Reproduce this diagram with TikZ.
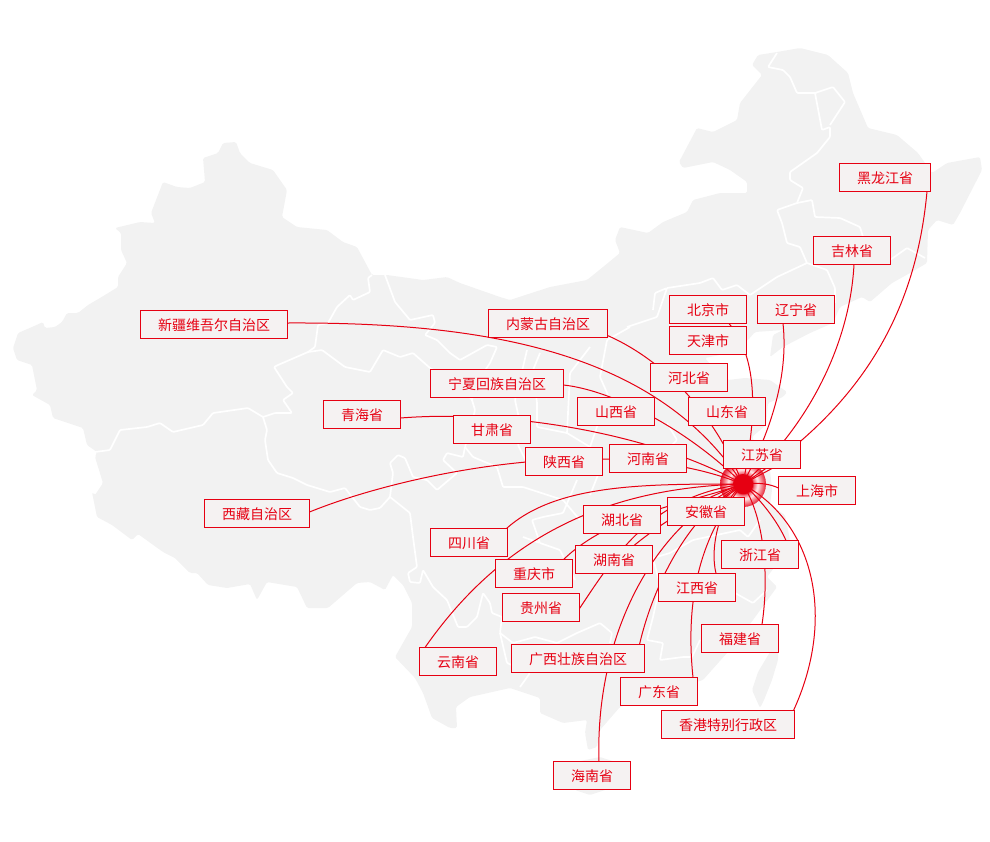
\documentclass[tikz,border=0pt]{standalone}
\usepackage{fontspec}
\newfontfamily\cjk{Noto Sans CJK SC}
\usetikzlibrary{backgrounds}
\definecolor{brandred}{HTML}{E60012}
\definecolor{mapgray}{HTML}{F2F2F2}
\definecolor{boxgray}{HTML}{F5F2F2}
\pgfdeclareradialshading{halofade}{\pgfpoint{0bp}{0bp}}{%
  rgb(0bp)=(.90,0,.07);rgb(10bp)=(.90,0,.07);rgb(12bp)=(.95,.45,.50);rgb(16bp)=(1,.93,.93);
  rgb(20bp)=(.96,.55,.58);rgb(25bp)=(.90,.12,.20);rgb(50bp)=(.90,.12,.20)}

\begin{document}
\begin{tikzpicture}[
        x=1pt, y=-1pt,
        prov/.style={draw=brandred, fill=boxgray, text=brandred, line width=1pt,
                inner xsep=17.5pt, inner ysep=0pt, outer sep=0pt, minimum height=28pt,
                text height=12pt, text depth=0.4pt,
                font=\cjk\fontsize{14}{14}\selectfont},
        link/.style={draw=brandred, line width=1pt},
        border/.style={draw=white, line width=1.7pt, line join=round, rounded corners=1pt},
        hubdot/.style={circle, fill=brandred, minimum size=20pt, inner sep=0pt, outer sep=0pt},
        halo/.style={circle, shading=halofade, minimum size=46pt, inner sep=0pt}
    ]
    \useasboundingbox (0,0) rectangle (990,841);

    % Hub
    \node[hubdot] (hub) at (743,484) {};

    % Provinces
    \foreach \id/\x/\y/\txt in {
            hlj/885/177.5/黑龙江省, jilin/852/250.5/吉林省, beijing/708/309.5/北京市,
            liaoning/796/309.5/辽宁省, tianjin/708/340.5/天津市, neimeng/548/323.5/内蒙古自治区,
            xinjiang/214/324.5/新疆维吾尔自治区, hebei/689/377.5/河北省, ningxia/497/383.5/宁夏回族自治区,
            shanxi/616/411.5/山西省, shandong/727/411.5/山东省, qinghai/362/414.5/青海省,
            gansu/492/429.5/甘肃省, jiangsu/762/454.5/江苏省, henan/648/458.5/河南省,
            shaanxi/564/461.5/陕西省, shanghai/817/490.5/上海市, anhui/706/511.5/安徽省,
            xizang/257/513.5/西藏自治区, hubei/622/519.5/湖北省, sichuan/469/542.5/四川省,
            zhejiang/760/554.5/浙江省, hunan/614/559.5/湖南省, chongqing/534/573.5/重庆市,
            jiangxi/697/587.5/江西省, guizhou/541/607.5/贵州省, fujian/740/638.5/福建省,
            guangxi/578/658.5/广西壮族自治区, yunnan/458/661.5/云南省, guangdong/659/691.5/广东省,
            xianggang/728/724.5/香港特别行政区, hainan/592/775.5/海南省} {
            \node[prov] (\id) at (\x,\y) {\txt};
        }

    \begin{scope}[on background layer]
        % Land
        \fill[mapgray, rounded corners=1.5pt] (13,348) -- (18,333) -- (32,327) -- (43,322) -- (45,328) -- (55,327) -- (62,322) -- (67,313) -- (78,313) -- (88,305) -- (100,298) -- (118,287) -- (118,277) -- (127,263) -- (121,250) -- (121,233) -- (115,228) -- (140,222) -- (155,223) -- (151,213) -- (163,182) -- (177,187) -- (190,188) -- (205,182) -- (203,158) -- (218,153) -- (223,143) -- (236,142) -- (240,153) -- (250,163) -- (273,170) -- (287,190) -- (282,217) -- (297,227) -- (327,230) -- (343,242) -- (357,247) -- (372,275) -- (387,275) -- (423,280) -- (447,277) -- (460,283) -- (500,297) -- (510,300) -- (550,287) -- (587,280) -- (603,267) -- (620,253) -- (615,240) -- (620,227) -- (648,233) -- (663,222) -- (687,212) -- (693,200) -- (720,193) -- (747,193) -- (747,182) -- (730,170) -- (713,162) -- (683,168) -- (679,162) -- (697,128) -- (713,132) -- (737,120) -- (740,103) -- (762,75) -- (752,65) -- (758,55) -- (777,52) -- (800,48) -- (828,55) -- (848,73) -- (853,93) -- (868,128) -- (897,135) -- (918,153) -- (932,173) -- (947,163) -- (980,157) -- (982,170) -- (960,213) -- (953,225) -- (937,220) -- (928,230) -- (927,263) -- (910,273) -- (892,283) -- (870,302) -- (862,297) -- (840,307) -- (833,323) -- (810,333) -- (783,347) -- (770,357) -- (773,335) -- (783,330) -- (755,332) -- (748,340) -- (720,355) -- (705,358) -- (715,370) -- (728,380) -- (745,378) -- (770,380) -- (787,392) -- (783,397) -- (768,403) -- (766,425) -- (752,437) -- (762,455) -- (770,470) -- (772,490) -- (770,505) -- (785,515) -- (790,540) -- (780,560) -- (767,577) -- (777,587) -- (753,620) -- (727,653) -- (703,680) -- (660,693) -- (620,707) -- (600,730) -- (597,747) -- (588,750) -- (585,733) -- (587,720) -- (563,723) -- (540,713) -- (540,698) -- (510,688) -- (470,697) -- (456,707) -- (457,728) -- (450,728) -- (432,718) -- (423,693) -- (415,678) -- (395,657) -- (412,627) -- (412,603) -- (403,585) -- (393,575) -- (385,590) -- (370,582) -- (357,583) -- (328,608) -- (307,608) -- (297,587) -- (267,582) -- (257,600) -- (250,584) -- (227,588) -- (208,585) -- (197,573) -- (190,573) -- (175,558) -- (163,552) -- (138,534) -- (132,540) -- (112,525) -- (97,517) -- (92,492) -- (95,495) -- (103,483) -- (95,457) -- (97,452) -- (87,445) -- (83,428) -- (53,418) -- (50,405) -- (32,395) -- (37,390) -- (32,365) -- (17,360) -- cycle;
        \fill[mapgray, rounded corners=1.5pt] (778,648) -- (770,652) -- (758,672) -- (752,690) -- (760,708) -- (764,700) -- (772,680) -- (778,660) -- cycle;
        \fill[mapgray, rounded corners=1.5pt] (575,762) -- (600,757) -- (625,765) -- (620,785) -- (590,795) -- (575,790) -- cycle;

        % Borders
        \draw[border] (372,275) -- (368,278) -- (370,292) -- (353,300) -- (350,295) -- (337,307) -- (328,323) -- (318,325) -- (315,347) -- (308,352) -- (278,365) -- (274,367) -- (287,387) -- (293,393) -- (283,400) -- (292,413) -- (275,413) -- (263,417) -- (248,408) -- (213,413) -- (203,425) -- (173,432) -- (160,423) -- (147,427) -- (120,430) -- (110,450) -- (95,452);
        \draw[border] (263,417) -- (267,430) -- (265,440) -- (268,460) -- (277,473) -- (293,478) -- (307,485) -- (330,492) -- (345,488) -- (360,507) -- (370,510) -- (380,508) -- (390,497) -- (393,473) -- (390,463) -- (398,455) -- (405,458) -- (413,477) -- (427,480) -- (437,490) -- (457,473) -- (443,460) -- (447,453) -- (463,457) -- (465,447);
        \draw[border] (390,497) -- (410,513) -- (413,537) -- (417,567) -- (408,573) -- (410,582) -- (420,583) -- (423,570) -- (433,587) -- (447,600) -- (458,627) -- (467,627) -- (477,617) -- (483,593) -- (490,603) -- (492,613) -- (502,617) -- (500,633) -- (513,643) -- (535,637) -- (557,643) -- (577,633) -- (600,623) -- (612,633) -- (610,643);
        \draw[border] (500,633) -- (507,663) -- (530,673) -- (520,687);
        \draw[border] (308,352) -- (322,350) -- (345,367) -- (370,372) -- (383,350) -- (400,357) -- (413,353) -- (430,368) -- (460,385) -- (472,400) -- (475,410) -- (470,430) -- (465,447) -- (473,457) -- (497,467) -- (503,487) -- (523,487) -- (563,500) -- (580,520);
        \draw[border] (385,275) -- (395,302) -- (410,320) -- (433,315) -- (435,323) -- (425,335) -- (437,340) -- (450,353) -- (460,360) -- (487,345) -- (497,347) -- (490,363) -- (475,385) -- (472,400);
        % Shanxi, Shaanxi
        \draw[border] (527,350) -- (523,367) -- (515,400) -- (520,423) -- (518,445) -- (528,465);
        \draw[border] (540,353) -- (533,370) -- (537,403) -- (537,427) -- (567,433) -- (590,447);
        \draw[border] (630,327) -- (607,340) -- (600,377) -- (608,395) -- (590,447) -- (600,470) -- (590,495);
        \draw[border] (590,347) -- (570,373) -- (567,433);
        % North-east
        \draw[border] (627,327) -- (657,317) -- (667,288) -- (655,293) -- (653,310);
        \draw[border] (667,288) -- (700,283) -- (713,278) -- (722,290) -- (737,285) -- (750,295) -- (777,277) -- (807,263) -- (800,247) -- (787,243) -- (782,223) -- (777,210) -- (797,203) -- (812,200) -- (815,217) -- (840,218) -- (860,227) -- (863,237);
        \draw[border] (797,203) -- (803,188) -- (790,180) -- (790,172) -- (817,153) -- (830,137) -- (830,127) -- (822,130) -- (815,93) -- (833,87) -- (845,102) -- (830,125);
        \draw[border] (815,93) -- (797,93) -- (790,77) -- (783,70) -- (768,67) -- (777,53);
        \draw[border] (807,263) -- (827,270) -- (835,288) -- (835,303);
        \draw[border] (890,260) -- (907,248) -- (925,258);
        % South-east
        \draw[border] (653,558) -- (670,553) -- (693,540) -- (740,530) -- (748,537) -- (760,520);
        \draw[border] (667,423) -- (677,440) -- (667,450) -- (680,470);
        \draw[border] (653,617) -- (647,640) -- (663,643) -- (660,660) -- (683,657) -- (692,657) -- (700,640);
        \draw[border] (735,593) -- (753,603) -- (767,590);
        \draw[border] (653,558) -- (660,585) -- (653,617);
        \draw[border] (523,537) -- (540,543) -- (532,520) -- (543,517) -- (563,513) -- (577,480);
        \draw[border] (540,543) -- (560,550) -- (575,580);

        % Halo
        \node[halo] (halodisc) at (hub) {};

        % Links
        \draw[link] ([xshift=42pt]hlj.south) .. controls (917,300) and (872,398) .. (hub);
        \draw[link] ([xshift=2pt]jilin.south) .. controls (850,340) and (812,420) .. (hub);
        \draw[link] ([xshift=-13pt]liaoning.south) .. controls (788,370) and (775,420) .. (hub);
        \draw[link] ([xshift=21pt]beijing.south) .. controls (760,360) and (755,420) .. (hub);
        \draw[link] ([yshift=2pt]neimeng.south east) .. controls (652,355) and (705,398) .. (hub);
        \draw[link] ([yshift=1.5pt]xinjiang.east) .. controls (480,322) and (650,350) .. (hub);
        \draw[link] ([yshift=-1.5pt]ningxia.east) .. controls (610,390) and (680,425) .. (hub);
        \draw[link] ([yshift=-3.5pt]qinghai.east) .. controls (500,410) and (640,430) .. (hub);
        \draw[link] ([yshift=1.5pt]xizang.east) .. controls (400,475) and (600,432) .. (hub);
        \draw[link] ([xshift=-1pt]sichuan.north east) .. controls (555,485) and (640,484) .. (hub);
        \draw[link] ([xshift=-9pt]chongqing.north east) .. controls (610,515) and (680,505) .. (hub);
        \draw[link] ([xshift=-33pt]yunnan.north) .. controls (500,540) and (600,490) .. (hub);
        \draw[link] ([yshift=-1pt]guizhou.east) .. controls (615,555) and (650,500) .. (hub);
        \draw[link] ([xshift=20pt]hunan.north) .. controls (665,520) and (700,500) .. (hub);
        \draw[link] ([xshift=7pt]hainan.north) .. controls (595,640) and (650,530) .. (hub);
        \draw[link] ([xshift=-5pt]guangxi.north east) .. controls (652,590) and (685,520) .. (hub);
        \draw[link] ([xshift=34pt]guangdong.north) .. controls (685,600) and (700,540) .. (hub);
        \draw[link] ([xshift=19pt]jiangxi.north) .. controls (709,545) and (722,505) .. (hub);
        \draw[link] ([xshift=22pt]fujian.north) .. controls (770,570) and (762,520) .. (hub);
        \draw[link] ([xshift=26pt]zhejiang.north) .. controls (777,520) and (760,500) .. (hub);
        \draw[link] ([xshift=-1pt]xianggang.north east) .. controls (835,620) and (815,530) .. (hub);
        \draw[link] ([yshift=2.5pt]shanghai.west) .. controls (770,484) and (760,483) .. (hub);
        \draw[link] ([xshift=10pt]jiangsu.south) -- (hub);
        \draw[link] ([xshift=19pt]anhui.north) -- (hub);
    \end{scope}
\end{tikzpicture}
\end{document}
